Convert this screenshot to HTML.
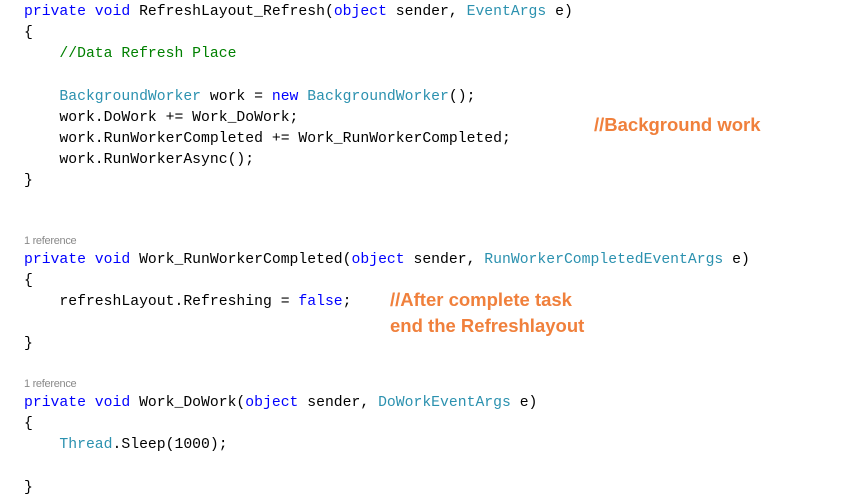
<!DOCTYPE html>
<html><head><style>
body{margin:0;width:863px;height:504px;background:#fff;position:relative;overflow:hidden}
.l{position:absolute;left:24px;font-family:"Liberation Mono",monospace;font-size:14.75px;white-space:pre;color:#000;line-height:16px}
.k{color:#0000ff}.t{color:#2b91af}.c{color:#008000}
.r{position:absolute;left:24px;font-family:"Liberation Sans",sans-serif;font-size:11px;color:#8a8a8a;letter-spacing:-0.3px}
.o{position:absolute;font-family:"Liberation Sans",sans-serif;font-weight:bold;font-size:18.5px;color:#f0803c;white-space:pre}
</style></head><body>
<div class="l" style="top:4px"><span class="k">private void</span> RefreshLayout_Refresh(<span class="k">object</span> sender, <span class="t">EventArgs</span> e)</div>
<div class="l" style="top:25px">{</div>
<div class="l" style="top:46px">    <span class="c">//Data Refresh Place</span></div>
<div class="l" style="top:89px">    <span class="t">BackgroundWorker</span> work = <span class="k">new</span> <span class="t">BackgroundWorker</span>();</div>
<div class="l" style="top:110px">    work.DoWork += Work_DoWork;</div>
<div class="l" style="top:131px">    work.RunWorkerCompleted += Work_RunWorkerCompleted;</div>
<div class="l" style="top:152px">    work.RunWorkerAsync();</div>
<div class="l" style="top:173px">}</div>
<div class="o" style="left:594px;top:114px">//Background work</div>
<div class="r" style="top:235px">1 reference</div>
<div class="l" style="top:252px"><span class="k">private void</span> Work_RunWorkerCompleted(<span class="k">object</span> sender, <span class="t">RunWorkerCompletedEventArgs</span> e)</div>
<div class="l" style="top:273px">{</div>
<div class="l" style="top:294px">    refreshLayout.Refreshing = <span class="k">false</span>;</div>
<div class="o" style="left:390px;top:289px">//After complete task</div>
<div class="o" style="left:390px;top:315px">end the Refreshlayout</div>
<div class="l" style="top:336px">}</div>
<div class="r" style="top:378px">1 reference</div>
<div class="l" style="top:395px"><span class="k">private void</span> Work_DoWork(<span class="k">object</span> sender, <span class="t">DoWorkEventArgs</span> e)</div>
<div class="l" style="top:416px">{</div>
<div class="l" style="top:437px">    <span class="t">Thread</span>.Sleep(1000);</div>
<div class="l" style="top:480px">}</div>
</body></html>
